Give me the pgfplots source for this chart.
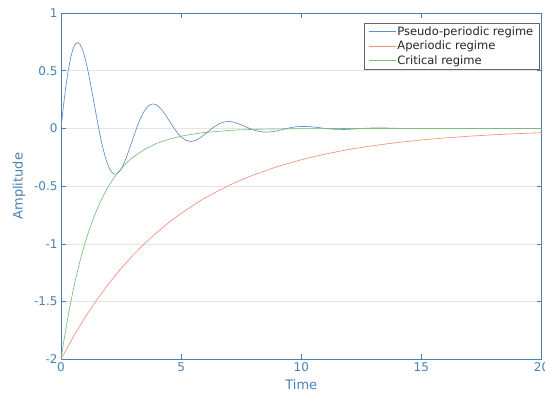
\documentclass[border=0pt]{standalone}
\usepackage{pgfplots}
\pgfplotsset{compat=1.18}
\usepackage{fontspec}
\setmainfont{DejaVu Sans}
\definecolor{axc}{RGB}{72,128,182}
\definecolor{c1}{RGB}{95,140,195}
\definecolor{c2}{RGB}{240,145,125}
\definecolor{c3}{RGB}{120,190,120}
\begin{document}
\begin{tikzpicture}
\begin{axis}[
 name=ax,
 scale only axis, width=480.5pt, height=346.3pt,
 xmin=0, xmax=20, ymin=-2, ymax=1,
 xtick={0,5,10,15,20}, ytick={-2,-1.5,-1,-0.5,0,0.5,1},
 tick align=inside, major tick length=5pt,
 axis line style={axc, line width=0.6pt},
 every tick/.style={axc, line width=0.6pt},
 ymajorgrids, grid style={black!10, line width=0.5pt},
 tick label style={font=\fontsize{12}{14}\selectfont, text=axc},
 /pgf/number format/assume math mode=true,
 xlabel={Time}, ylabel={Amplitude},
 label style={font=\fontsize{13}{15}\selectfont, text=axc},
 xlabel style={at={(axis description cs:0.5,-0.074)}, anchor=center},
 ylabel style={at={(axis description cs:-0.0874,0.5)}, anchor=center},
 legend style={at={(1,1)}, anchor=north east, xshift=-2.5pt, yshift=-10pt,
   draw=black!60, text=black!85, font=\fontsize{11.5}{13.5}\selectfont,
   inner xsep=4pt, inner ysep=2.5pt, row sep=2.2pt,
   nodes={inner xsep=1.5pt, inner ysep=1pt}},
 legend cell align=left,
 legend image code/.code={\draw[#1] (0pt,0pt) -- (27pt,0pt);},
 every axis plot/.append style={line width=0.65pt},
]
\addplot[c1] coordinates {
(0,0) (0.1,0.1909) (0.2,0.3595) (0.3,0.5008) (0.4,0.6113) (0.5,0.6889) (0.6,0.7331) (0.7,0.7448) (0.8,0.7258) (0.9,0.6794)
(1.0,0.6095) (1.1,0.5207) (1.2,0.4180) (1.3,0.3065) (1.4,0.1913) (1.5,0.0774) (1.6,-0.0308) (1.7,-0.1294) (1.8,-0.2154) (1.9,-0.2862)
(2.0,-0.3400) (2.1,-0.3763) (2.2,-0.3947) (2.3,-0.3960) (2.4,-0.3814) (2.5,-0.3528) (2.6,-0.3123) (2.7,-0.2624) (2.8,-0.2060) (2.9,-0.1457)
(3.0,-0.0842) (3.1,-0.0241) (3.2,0.0324) (3.3,0.0832) (3.4,0.1268) (3.5,0.1620) (3.6,0.1880) (3.7,0.2045) (3.8,0.2117) (3.9,0.2098)
(4.0,0.1998) (4.1,0.1825) (4.2,0.1593) (4.3,0.1315) (4.4,0.1006) (4.5,0.0681) (4.6,0.0354) (4.7,0.0038) (4.8,-0.0256) (4.9,-0.0516)
(5.0,-0.0736) (5.2,-0.1034) (5.4,-0.1131) (5.6,-0.1044) (5.8,-0.0811) (6.0,-0.0487) (6.2,-0.0138) (6.4,0.0179) (6.6,0.0423) (6.8,0.0567)
(7.0,0.0602) (7.2,0.0536) (7.4,0.0397) (7.6,0.0220) (7.8,0.0043) (8.0,-0.0117) (8.2,-0.0237) (8.4,-0.0304) (8.6,-0.0319) (8.8,-0.0284)
(9.0,-0.0205) (9.2,-0.0107) (9.4,-0.0002) (9.6,0.0086) (9.8,0.0147) (10.0,0.0167) (10.2,0.0169) (10.4,0.0145) (10.6,0.0102) (10.8,0.0051)
(11.0,-0.0001) (11.4,-0.0076) (11.8,-0.0089) (12.2,-0.0051) (12.6,0.0004) (13.0,0.0042) (13.5,0.0035) (14.0,0.0010) (14.5,-0.0012)
(15,-0.0010) (16,0.0004) (17,0) (18,0) (19,0) (20,0)
};
\addlegendentry{Pseudo-periodic regime}
\addplot[c2] coordinates {
(0,-2) (0.5,-1.810) (1,-1.637) (1.5,-1.482) (2,-1.341) (2.5,-1.213) (3,-1.098) (3.5,-0.993) (4,-0.899) (4.5,-0.813)
(5,-0.736) (5.5,-0.666) (6,-0.602) (6.5,-0.545) (7,-0.493) (7.5,-0.446) (8,-0.404) (9,-0.331) (10,-0.271) (11,-0.222) (12,-0.181)
(13,-0.149) (14,-0.122) (15,-0.100) (16,-0.082) (17,-0.067) (18,-0.055) (19,-0.045) (20,-0.037)
};
\addlegendentry{Aperiodic regime}
\addplot[c3] coordinates {
(0,-2) (0.1,-1.865) (0.2,-1.739) (0.3,-1.621) (0.4,-1.512) (0.5,-1.409) (0.6,-1.314) (0.7,-1.226) (0.8,-1.142) (0.9,-1.065)
(1.0,-0.993) (1.2,-0.863) (1.4,-0.751) (1.6,-0.653) (1.8,-0.567) (2.0,-0.493) (2.2,-0.429) (2.4,-0.373) (2.6,-0.326) (2.8,-0.285)
(3.0,-0.249) (3.5,-0.178) (4.0,-0.128) (4.5,-0.093) (5.0,-0.067) (5.5,-0.049) (6.0,-0.035) (7.0,-0.017) (8.0,-0.008) (9.0,-0.004)
(10,-0.002) (12,-0.0005) (15,0) (20,0)
};
\addlegendentry{Critical regime}
\end{axis}
\pgfresetboundingbox
\path[use as bounding box] ([shift={(-61pt,-38.7pt)}]ax.south west) rectangle ([shift={(3.5pt,13pt)}]ax.north east);
\end{tikzpicture}
\end{document}
